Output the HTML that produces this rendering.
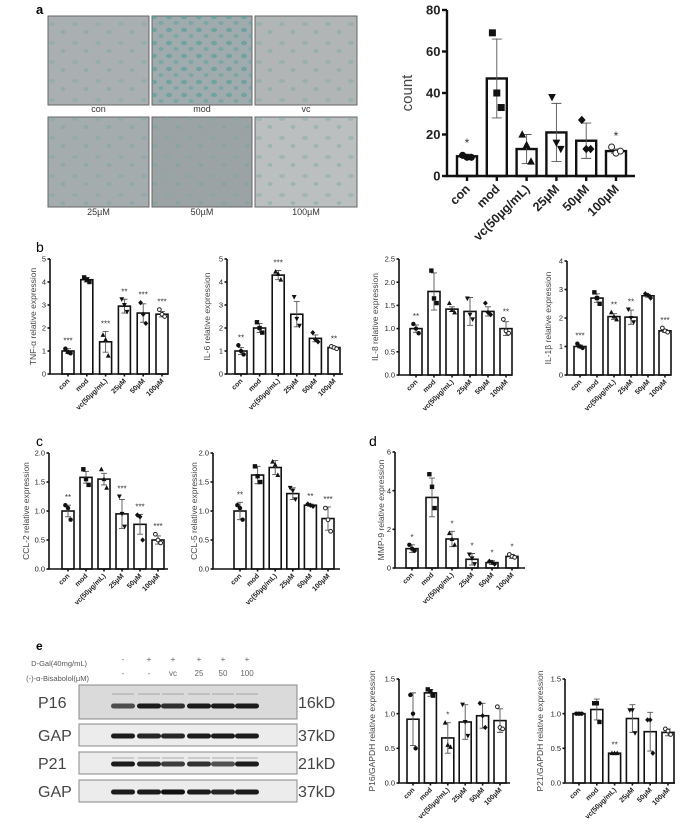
<!DOCTYPE html>
<html><head><meta charset="utf-8">
<style>
body{margin:0;background:#fff;width:682px;height:827px;overflow:hidden;font-family:"Liberation Sans",sans-serif}
svg{position:absolute;left:0;top:0}
</style></head>
<body>
<svg id="fig" width="682" height="827" viewBox="0 0 682 827" xmlns="http://www.w3.org/2000/svg">
<defs>
<pattern id="cells1" width="23" height="19" patternUnits="userSpaceOnUse"><ellipse cx="6" cy="5" rx="3" ry="2" fill="#7fa9a6" opacity="0.45"/><ellipse cx="17" cy="13" rx="2.5" ry="2" fill="#6fa3a0" opacity="0.4"/></pattern>
<pattern id="cells2" width="15" height="13" patternUnits="userSpaceOnUse"><ellipse cx="4" cy="4" rx="3" ry="2.2" fill="#4f9c98" opacity="0.6"/><ellipse cx="11" cy="10" rx="2.5" ry="2" fill="#5aa09c" opacity="0.5"/></pattern>
</defs>
<text x="36" y="14" font-size="13" font-weight="bold">a</text>
<text x="36" y="252" font-size="14">b</text>
<text x="36" y="446" font-size="14">c</text>
<text x="369" y="446" font-size="14">d</text>
<text x="36" y="650" font-size="12" font-weight="bold">e</text>
<g id="tiles"></g>
<g id="blot"></g>
<g id="charts"></g>
</svg>
<script>
// ---------------- DATA ----------------
const groups = ["con","mod","vc(50µg/mL)","25µM","50µM","100µM"];
const groupsA = ["con","mod","vc(50µg/mL)","25µM","50µM","100µM"];

const countMeans = [9.5,47,13,21,17,12];
const countSD = [1,19,7,14,8.5,1];
const countPts = [[10,9,9],[69,40,33],[20,15,7],[38,16,13],[27,13,13],[14,11,12]];
const countStars = ["*","","","","","*"];

const tnfMeans = [1.0,4.1,1.4,2.95,2.65,2.6];
const tnfSD = [0.1,0.1,0.45,0.3,0.4,0.12];
const tnfPts = [[1.1,0.95,0.9],[4.2,4.1,4.0],[1.7,1.5,0.8],[3.25,3.0,2.7],[3.1,2.6,2.2],[2.8,2.6,2.5]];
const tnfStars = ["***","","***","**","***","***"];

const il6Means = [1.0,2.0,4.3,2.6,1.55,1.15];
const il6SD = [0.15,0.2,0.2,0.55,0.15,0.05];
const il6Pts = [[1.25,1.0,0.85],[2.25,2.0,1.8],[4.45,4.35,4.1],[3.35,2.4,2.1],[1.8,1.5,1.4],[1.2,1.15,1.1]];
const il6Stars = ["**","","***","","","**"];

const il8Means = [1.0,1.8,1.42,1.37,1.37,1.0];
const il8SD = [0.08,0.4,0.05,0.3,0.1,0.15];
const il8Pts = [[1.1,1.0,0.9],[2.25,1.65,1.55],[1.55,1.4,1.35],[1.65,1.3,1.2],[1.55,1.35,1.3],[1.2,0.95,0.9]];
const il8Stars = ["**","","","","","**"];

const il1bMeans = [1.0,2.7,2.05,2.03,2.78,1.55];
const il1bSD = [0.05,0.15,0.1,0.25,0.05,0.05];
const il1bPts = [[1.1,1.0,0.95],[2.9,2.7,2.5],[2.2,2.05,1.95],[2.3,2.0,1.85],[2.85,2.8,2.7],[1.65,1.55,1.5]];
const il1bStars = ["***","","**","**","","***"];

const ccl2Means = [1.0,1.58,1.55,0.95,0.77,0.5];
const ccl2SD = [0.1,0.1,0.1,0.25,0.17,0.07];
const ccl2Pts = [[1.1,1.05,0.85],[1.72,1.55,1.45],[1.72,1.55,1.4],[1.25,0.95,0.73],[0.93,0.9,0.5],[0.6,0.5,0.45]];
const ccl2Stars = ["**","","","***","***","***"];

const ccl5Means = [1.0,1.62,1.75,1.3,1.1,0.87];
const ccl5SD = [0.15,0.15,0.12,0.1,0.02,0.2];
const ccl5Pts = [[1.1,1.05,0.85],[1.77,1.6,1.5],[1.85,1.8,1.62],[1.4,1.35,1.2],[1.12,1.1,1.08],[1.05,0.85,0.65]];
const ccl5Stars = ["**","","","","**","***"];

const mmpMeans = [1.0,3.65,1.5,0.45,0.28,0.6];
const mmpSD = [0.2,1.0,0.4,0.3,0.1,0.1];
const mmpPts = [[1.2,1.0,0.9],[4.85,4.2,3.1],[1.8,1.5,1.2],[0.7,0.5,0.2],[0.35,0.3,0.2],[0.7,0.6,0.55]];
const mmpStars = ["*","","*","*","*","*"];

const p16Means = [0.92,1.3,0.65,0.88,0.97,0.9];
const p16SD = [0.38,0.05,0.22,0.25,0.18,0.17];
const p16Pts = [[1.27,1.0,0.5],[1.35,1.32,1.26],[0.87,0.55,0.52],[1.13,0.88,0.68],[1.15,0.97,0.8],[1.1,0.8,0.78]];
const p16Stars = ["","","*","","",""];

const p21Means = [1.0,1.06,0.43,0.93,0.74,0.73];
const p21SD = [0.01,0.15,0.01,0.2,0.28,0.05];
const p21Pts = [[1.0,1.0,1.0],[1.15,1.15,0.88],[0.43,0.43,0.43],[1.05,1.05,0.72],[0.91,0.91,0.43],[0.78,0.75,0.7]];
const p21Stars = ["","","**","","",""];

const blotCols1 = ["-","+","+","+","+","+"];
const blotCols2 = ["-","-","vc","25","50","100"];
const blotRows = ["P16","GAP","P21","GAP"];
const blotKD = ["16kD","37kD","21kD","37kD"];
const bandIntensity = [[0.7,0.95,0.85,0.95,0.95,0.95],[0.95,0.9,0.9,0.95,0.95,0.95],[0.95,0.9,0.8,0.85,0.7,0.95],[0.95,0.95,1,0.95,0.9,0.95]];

// ---------------- HELPERS ----------------
const NS="http://www.w3.org/2000/svg";
function mk(tag,parent,attrs){const e=document.createElementNS(NS,tag);for(const k in attrs)e.setAttribute(k,attrs[k]);parent.appendChild(e);return e;}

function marker(g,type,cx,cy,s){
  let e;
  if(type===0){e=mk('circle',g,{cx:cx,cy:cy,r:s,fill:'#111'});}
  else if(type===1){e=mk('rect',g,{x:cx-s,y:cy-s,width:2*s,height:2*s,fill:'#111'});}
  else if(type===2){e=mk('polygon',g,{points:`${cx},${cy-s*1.2} ${cx-s*1.1},${cy+s*0.9} ${cx+s*1.1},${cy+s*0.9}`,fill:'#111'});}
  else if(type===3){e=mk('polygon',g,{points:`${cx},${cy+s*1.2} ${cx-s*1.1},${cy-s*0.9} ${cx+s*1.1},${cy-s*0.9}`,fill:'#111'});}
  else if(type===4){e=mk('polygon',g,{points:`${cx},${cy-s*1.2} ${cx+s*1.1},${cy} ${cx},${cy+s*1.2} ${cx-s*1.1},${cy}`,fill:'#111'});}
  else {e=mk('circle',g,{cx:cx,cy:cy,r:s*0.85,fill:'#fff',stroke:'#222','stroke-width':1});}
  
  
}

function chart(c){
  const root=document.getElementById('charts');
  const g=mk('g',root,{});
  
  
  const y=v=>c.yBot-(v/c.yMax)*(c.yBot-c.yTop);
  const xc=i=>c.first+i*c.step;
  const sw=c.sw||1.6;
  c.means.forEach((m,i)=>{
    const r=mk('rect',g,{x:xc(i)-c.bw/2,y:y(m),width:c.bw,height:c.yBot-y(m),fill:'#fff',stroke:'#111','stroke-width':sw});
    
    
  });
  c.means.forEach((m,i)=>{
    const lo=Math.max(0,m-c.sd[i]),hi=m+c.sd[i];
    const eb=mk('path',g,{d:`M${xc(i)},${y(lo)}V${y(hi)}M${xc(i)-c.bw*0.25},${y(hi)}H${xc(i)+c.bw*0.25}M${xc(i)-c.bw*0.25},${y(lo)}H${xc(i)+c.bw*0.25}`,stroke:'#555','stroke-width':0.9,fill:'none'});
    
    
  });
  c.pts.forEach((arr,i)=>{
    const off=[-c.bw*0.22,0,c.bw*0.22];
    arr.forEach((v,j)=>marker(g,i,xc(i)+off[j],y(v),c.ms));
  });
  c.stars.forEach((s,i)=>{
    if(!s)return;
    const top=Math.max(c.means[i]+c.sd[i],Math.max(...c.pts[i]));
    const t=mk('text',g,{x:xc(i),y:y(top)-c.starGap,'text-anchor':'middle','font-size':c.starSize,fill:'#333'});
    t.textContent=s;
    
    
  });
  const ax=mk('path',g,{d:`M${c.x0},${c.yTop}V${c.yBot}H${c.xEnd}`,stroke:'#111','stroke-width':sw,fill:'none'});
  
  
  c.ticks.forEach((tv,k)=>{
    mk('line',g,{x1:c.x0-c.tl,x2:c.x0,y1:y(tv),y2:y(tv),stroke:'#111','stroke-width':sw});
    const t=mk('text',g,{x:c.x0-c.tl-1.5,y:y(tv)+c.tf*0.35,'text-anchor':'end','font-size':c.tf,'font-weight':c.bold?'bold':'normal',fill:'#222'});
    t.textContent=c.tickLabels[k];
    
    
  });
  c.cats.forEach((cat,i)=>{
    mk('line',g,{x1:xc(i),x2:xc(i),y1:c.yBot,y2:c.yBot+c.tl,stroke:'#111','stroke-width':sw});
    const lx=xc(i)+c.lf*0.3,ly=c.yBot+c.tl+c.lf*0.7;
    const t=mk('text',g,{x:lx,y:ly,'text-anchor':'end','font-size':c.lf,'font-weight':'bold',fill:'#222',transform:`rotate(-45 ${lx} ${ly})`});
    t.textContent=cat;
    
    
  });
  const yl=mk('text',g,{x:c.ylx,y:(c.yTop+c.yBot)/2,'text-anchor':'middle','font-size':c.ylf,fill:'#444',transform:`rotate(-90 ${c.ylx} ${(c.yTop+c.yBot)/2})`});
  yl.textContent=c.ylabel;
  
  
}

const small={bw:12,ms:2.2,tl:2.5,tf:7.5,lf:7,ylf:8.5,starSize:8,starGap:5,sw:1.6};
function S(o){return Object.assign({},small,o);}

chart({name:'count-chart',means:countMeans,sd:countSD,pts:countPts,stars:countStars,cats:groupsA,
  x0:447,xEnd:635,yTop:10,yBot:176,yMax:80,first:467,step:29.8,bw:20,ms:3.5,tl:5,tf:13,lf:12.5,ylf:15,
  ticks:[0,20,40,60,80],tickLabels:["0","20","40","60","80"],ylabel:'count',ylx:412,starSize:12,starGap:7,sw:2.4,bold:true});

chart(S({name:'tnf-chart',means:tnfMeans,sd:tnfSD,pts:tnfPts,stars:tnfStars,cats:groups,x0:50,xEnd:168,yTop:259,yBot:374,yMax:5,first:68,step:18.8,
  ticks:[0,1,2,3,4,5],tickLabels:["0","1","2","3","4","5"],ylabel:'TNF-α  relative expression',ylx:36}));
chart(S({name:'il6-chart',means:il6Means,sd:il6SD,pts:il6Pts,stars:il6Stars,cats:groups,x0:227,xEnd:343,yTop:259,yBot:374,yMax:5,first:241,step:18.6,
  ticks:[0,1,2,3,4,5],tickLabels:["0","1","2","3","4","5"],ylabel:'IL-6  relative expression',ylx:210}));
chart(S({name:'il8-chart',means:il8Means,sd:il8SD,pts:il8Pts,stars:il8Stars,cats:groups,x0:399,xEnd:512,yTop:259,yBot:375,yMax:2.5,first:416,step:18,
  ticks:[0,0.5,1,1.5,2,2.5],tickLabels:["0.0","0.5","1.0","1.5","2.0","2.5"],ylabel:'IL-8  relative expression',ylx:378}));
chart(S({name:'il1b-chart',means:il1bMeans,sd:il1bSD,pts:il1bPts,stars:il1bStars,cats:groups,x0:567,xEnd:671,yTop:261,yBot:375,yMax:4,first:580,step:17,
  ticks:[0,1,2,3,4],tickLabels:["0","1","2","3","4"],ylabel:'IL-1β relative expression',ylx:551}));
chart(S({name:'ccl2-chart',means:ccl2Means,sd:ccl2SD,pts:ccl2Pts,stars:ccl2Stars,cats:groups,x0:49,xEnd:168,yTop:453,yBot:569,yMax:2,first:68,step:18,
  ticks:[0,0.5,1,1.5,2],tickLabels:["0.0","0.5","1.0","1.5","2.0"],ylabel:'CCL-2  relative expression',ylx:29}));
chart(S({name:'ccl5-chart',means:ccl5Means,sd:ccl5SD,pts:ccl5Pts,stars:ccl5Stars,cats:groups,x0:213,xEnd:340,yTop:453,yBot:569,yMax:2,first:240,step:17.6,
  ticks:[0,0.5,1,1.5,2],tickLabels:["0.0","0.5","1.0","1.5","2.0"],ylabel:'CCL-5  relative expression',ylx:197}));
chart(S({name:'mmp9-chart',means:mmpMeans,sd:mmpSD,pts:mmpPts,stars:mmpStars,cats:groups,x0:395,xEnd:525,yTop:452,yBot:568,yMax:6,first:412,step:20,
  ticks:[0,2,4,6],tickLabels:["0","2","4","6"],ylabel:'MMP-9 relative expression',ylx:384}));
chart(S({name:'p16-chart',means:p16Means,sd:p16SD,pts:p16Pts,stars:p16Stars,cats:groups,x0:399,xEnd:510,yTop:679,yBot:783,yMax:1.5,first:413,step:17.4,
  ticks:[0,0.5,1,1.5],tickLabels:["0.0","0.5","1.0","1.5"],ylabel:'P16/GAPDH relative expression',ylx:375}));
chart(S({name:'p21-chart',means:p21Means,sd:p21SD,pts:p21Pts,stars:p21Stars,cats:groups,x0:565,xEnd:675,yTop:679,yBot:783,yMax:1.5,first:579,step:17.8,
  ticks:[0,0.5,1,1.5],tickLabels:["0.0","0.5","1.0","1.5"],ylabel:'P21/GAPDH relative expression',ylx:543}));

// ---------------- MICROSCOPY TILES ----------------
const tileNames=["con","mod","vc","25µM","50µM","100µM"];
const tileBg=["#aab0b1","#9fabac","#b1b5b6","#a5acad","#9ca3a4","#bbbfc0"];
const tg=document.getElementById('tiles');
const tx=[48,152,255],tyy=[16,117],tw=[101,100,102],th=[89,90];
tileNames.forEach((n,i)=>{
  const c=i%3,r=Math.floor(i/3);
  const rc=mk('rect',tg,{x:tx[c],y:tyy[r],width:tw[c],height:th[r],fill:tileBg[i],stroke:'#666','stroke-width':1});
  
  
  mk('rect',tg,{x:tx[c],y:tyy[r],width:tw[c],height:th[r],fill:i===1?'url(#cells2)':'url(#cells1)'});
  const t=mk('text',tg,{x:tx[c]+tw[c]/2,y:r===0?112:215,'text-anchor':'middle','font-size':9,fill:'#333'});
  t.textContent=n;
  
  
});

// ---------------- WESTERN BLOT ----------------
const bg=document.getElementById('blot');
const laneX=[123,149,173,199,223,247];
const l1=mk('text',bg,{x:87,y:666,'text-anchor':'end','font-size':7.5,fill:'#555'});l1.textContent='D-Gal(40mg/mL)';


const l2=mk('text',bg,{x:89,y:681,'text-anchor':'end','font-size':7.5,fill:'#555'});l2.textContent='(-)-α-Bisabolol(μM)';


blotCols1.forEach((s,i)=>{const t=mk('text',bg,{x:laneX[i],y:662,'text-anchor':'middle','font-size':8,fill:'#666'});t.textContent=s;
  
  });
blotCols2.forEach((s,i)=>{const t=mk('text',bg,{x:laneX[i],y:676,'text-anchor':'middle','font-size':8,fill:'#666'});t.textContent=s;
  
  });
const boxY=[685,724,752,780],boxH=[34,22,22,22];
blotRows.forEach((n,r)=>{
  const b=mk('rect',bg,{x:79,y:boxY[r],width:218,height:boxH[r],fill:r===0?'#dadada':'#ececec',stroke:'#888','stroke-width':1});
  
  
  const cy=r===0?boxY[r]+21:boxY[r]+boxH[r]/2+1;
  laneX.forEach((lx,i)=>{
    if(r===0||r===2) mk('rect',bg,{x:lx-11,y:cy-(r===0?13:7),width:22,height:2,fill:'#999',opacity:0.4});
    const e=mk('rect',bg,{x:lx-12,y:cy-2.5,width:24,height:5,rx:2.5,fill:'#111',opacity:bandIntensity[r][i]});
    
    
  });
  const t=mk('text',bg,{x:38,y:boxY[r]+boxH[r]/2+6,'font-size':16,fill:'#444'});t.textContent=n;
  
  
  const k=mk('text',bg,{x:298,y:boxY[r]+boxH[r]/2+6,'font-size':16,fill:'#444'});k.textContent=blotKD[r];
  
  
});
</script>
</body></html>
